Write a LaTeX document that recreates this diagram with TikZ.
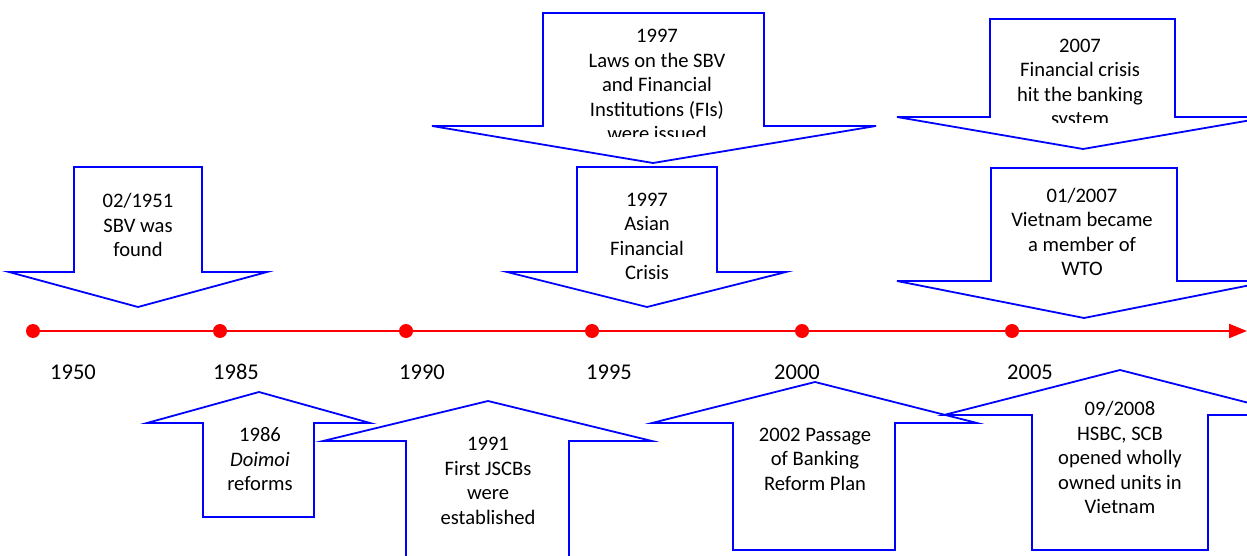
\documentclass[tikz,border=0pt]{standalone}
\usepackage{fontspec}
\setmainfont{Carlito}
\usetikzlibrary{arrows.meta}

\begin{document}
\begin{tikzpicture}[x=1pt,y=-1pt]
  \tikzset{shp/.style={draw=blue,fill=white,line width=1.8pt,line join=miter},
    txt/.style={align=center,font=\fontsize{20.6}{24.5}\selectfont,inner sep=0pt},
    dot/.style={shape=circle,fill=red,minimum size=14pt,inner sep=0pt},
    yr/.style={font=\fontsize{22.5}{26}\selectfont,inner sep=0pt}};
  \useasboundingbox (0,0) rectangle (1247,556);
  \clip (0,0) rectangle (1247,556);
  \draw[shp] (74,167) -- (202,167) -- (202,272) -- (267,272) -- (138,307) -- (9,272) -- (74,272) -- cycle;
  \draw[shp] (543,13) -- (764,13) -- (764,126) -- (876,126) -- (653,163) -- (432,126) -- (543,126) -- cycle;
  \draw[shp] (577,167) -- (717,167) -- (717,272) -- (786,272) -- (647,307) -- (507,272) -- (577,272) -- cycle;
  \draw[shp] (990,19) -- (1175,19) -- (1175,117) -- (1269,117) -- (1083,149) -- (897,117) -- (990,117) -- cycle;
  \draw[shp] (991,168) -- (1177,168) -- (1177,281) -- (1271,281) -- (1084,318) -- (897,281) -- (991,281) -- cycle;
  \draw[shp] (203,517) -- (314,517) -- (314,423) -- (370,423) -- (259,392) -- (147,423) -- (203,423) -- cycle;
  \draw[shp] (406,600) -- (569,600) -- (569,441) -- (652,441) -- (488,401) -- (323,441) -- (406,441) -- cycle;
  \draw[shp] (733,550) -- (895,550) -- (895,423) -- (977,423) -- (815,382) -- (652,423) -- (733,423) -- cycle;
  \draw[shp] (1032,550) -- (1208,550) -- (1208,415) -- (1296,415) -- (1120,370) -- (944,415) -- (1032,415) -- cycle;
  \node[txt] (e1951) at (138,225) {02/1951\\SBV was\\found};
  \begin{scope}
    \clip (543,13) rectangle (764,137);
    \node[txt] (e1997b) at (657,85) {1997\\Laws on the SBV\\and Financial\\Institutions (FIs)\\were issued};
  \end{scope}
  \node[txt] (e1997a) at (647,236.5) {1997\\Asian\\Financial\\Crisis};
  \begin{scope}
    \clip (990,19) rectangle (1175,123);
    \node[txt] (e2007b) at (1080,84) {2007\\Financial crisis\\hit the banking\\system};
  \end{scope}
  \node[txt] (e2007a) at (1082,232) {01/2007\\Vietnam became\\a member of\\WTO};
  \node[txt] (e1986) at (260,459.5) {1986\\\textit{Doimoi}\\reforms};
  \node[txt] (e1991) at (488,481) {1991\\First JSCBs\\were\\established};
  \node[txt] (e2002) at (815,459) {2002 Passage\\of Banking\\Reform Plan};
  \node[txt] (e2008) at (1120,457.5) {09/2008\\HSBC, SCB\\opened wholly\\owned units in\\Vietnam};
  \foreach \x/\n in {33/1950,220/1985,406/1990,592/1995,802/2000,1012/2005}
    \node[dot] (d\n) at (\x,331) {};
  \coordinate (tend) at (1247,331);
  \draw[red,line width=2.2pt] (d1950) -- (d1985) -- (d1990) -- (d1995) -- (d2000) -- (d2005);
  \draw[red,line width=2.2pt,-{Triangle[length=18pt,width=14pt]}] (d2005) -- (tend);
  \foreach \x/\n in {73/1950,236/1985,422/1990,609/1995,797/2000,1030/2005}
    \node[yr] (y\n) at (\x,372) {\n};
\end{tikzpicture}
\end{document}
